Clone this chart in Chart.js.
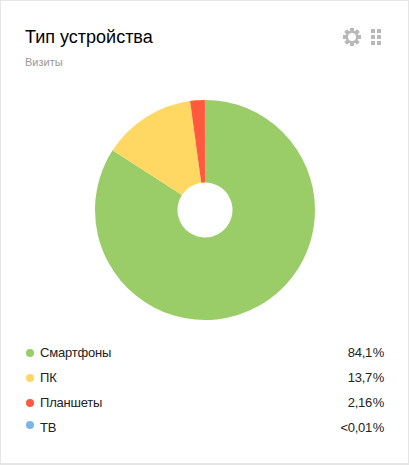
<!DOCTYPE html>
<html lang="ru">
<head>
<meta charset="utf-8">
<script src="https://cdn.jsdelivr.net/npm/chart.js@4/dist/chart.umd.min.js"></script>
<style>
html, body { margin: 0; padding: 0; background: #fff; }
#card {
    position: relative; box-sizing: border-box; width: 409px; height: 465px;
    border: 1px solid #e5e5e5; border-width: 1px 1px 2px 1px; background: #fff;
    font-family: "Liberation Sans", Arial, sans-serif; overflow: hidden;
}
#title { position: absolute; left: 24px; top: 25px; font-size: 18px; line-height: 22px; color: #000; }
#subtitle { position: absolute; left: 24px; top: 54px; font-size: 11px; line-height: 14px; color: #999; }
#icons { position: absolute; left: 342px; top: 27px; }
#chart_box { position: absolute; left: 89px; top: 94px; width: 230px; height: 230px; }
.row { position: absolute; left: 0; width: 100%; height: 20px; font-size: 13px; line-height: 20px; color: #222; }
.row i { position: absolute; left: 25px; top: 6px; width: 8px; height: 8px; border-radius: 50%; }
.row:last-child i { top: 3px; }
.row .name { position: absolute; left: 39px; letter-spacing: -0.2px; }
.row .value { position: absolute; right: 24px; letter-spacing: -0.3px; }
</style>
</head>
<body>
<div id="card">
    <div id="title">Тип устройства</div>
    <div id="subtitle">Визиты</div>
    <svg id="icons" width="42" height="20" viewBox="0 0 42 20">
        <g fill="#b8b8b8">
            <circle cx="9" cy="9" r="6.5"></circle>
            <rect x="7" y="0" width="4" height="18"></rect>
            <rect x="7" y="0" width="4" height="18" transform="rotate(45 9 9)"></rect>
            <rect x="7" y="0" width="4" height="18" transform="rotate(90 9 9)"></rect>
            <rect x="7" y="0" width="4" height="18" transform="rotate(135 9 9)"></rect>
            <rect x="28" y="1" width="4" height="4"></rect>
            <rect x="34" y="1" width="4" height="4"></rect>
            <rect x="28" y="7" width="4" height="4"></rect>
            <rect x="34" y="7" width="4" height="4"></rect>
            <rect x="28" y="13" width="4" height="4"></rect>
            <rect x="34" y="13" width="4" height="4"></rect>
        </g>
        <circle cx="9" cy="9" r="4" fill="#fff"></circle>
    </svg>
    <div id="chart_box"><canvas id="device_chart"></canvas></div>
    <div id="legend"></div>
</div>
<script>
const categories = ["Смартфоны", "ПК", "Планшеты", "ТВ"];
const visit_share = [84.1, 13.7, 2.16, 0.01];
const share_labels = ["84,1\u200a%", "13,7\u200a%", "2,16\u200a%", "<0,01\u200a%"];
const colors = ["#9acd68", "#ffd763", "#ff5a3d", "#7ab6ea"];

// legend rows sit under the pie, 25px apart
const legend_block = document.getElementById("legend");
categories.forEach((name, i) => {
    const row = document.createElement("div");
    row.className = "row";
    row.style.top = (342 + i * 25) + "px";
    const dot = document.createElement("i");
    dot.style.background = colors[i];
    const label = document.createElement("span");
    label.className = "name";
    label.textContent = name;
    const value = document.createElement("span");
    value.className = "value";
    value.textContent = share_labels[i];
    row.append(dot, label, value);
    legend_block.appendChild(row);
});

const data = {
    labels: categories,
    datasets: [{
        data: visit_share,
        backgroundColor: colors,
        borderWidth: 0
    }]
};

const config = {
    type: 'doughnut',
    data: data,
    options: {
        responsive: true,
        maintainAspectRatio: false,
        animation: false,
        cutout: '25%',
        radius: 110,
        layout: { padding: 0 },
        plugins: {
            legend: { display: false },
            tooltip: { enabled: false }
        }
    }
};

var ctx_pie = document.getElementById("device_chart");
var device_chart = new Chart(ctx_pie, config);
</script>
</body>
</html>
